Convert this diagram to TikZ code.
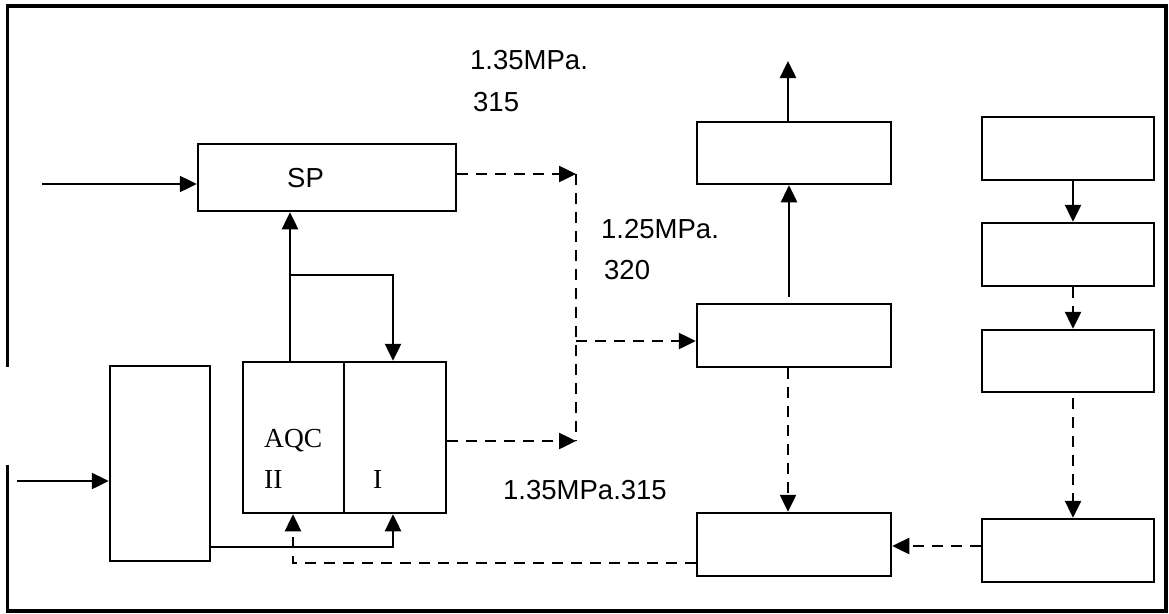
\documentclass[tikz,border=0pt]{standalone}
\usepackage{fontspec}
\setmainfont{Liberation Sans}
\newfontfamily\romanfont{Liberation Serif}
\usetikzlibrary{arrows.meta}
\begin{document}
\begin{tikzpicture}[x=1pt,y=-1pt,
  box/.style={draw, line width=2.5pt, inner sep=0pt, line join=miter},
  conn/.style={line width=2.5pt, -{Triangle[length=17pt,width=16pt]}},
  plain/.style={line width=2.5pt},
  dsh/.style={dash pattern=on 11pt off 8pt},
  lbl/.style={inner sep=0pt, anchor=base west, font=\fontsize{27.5}{32}\selectfont},
  rlbl/.style={inner sep=0pt, anchor=base west, font=\romanfont\fontsize{27.5}{32}\selectfont}]
\useasboundingbox (0,0) rectangle (1169,613);
% outer frame with gap on the left
\draw[line width=3.6pt, line join=miter] (7.6,367) -- (7.6,5.8) -- (1166,5.8) -- (1166,611.2) -- (7.6,611.2) -- (7.6,465);

% boxes
\node[box, minimum width=258pt, minimum height=67pt] (sp) at (327,177.5) {};
\node[box, minimum width=100pt, minimum height=195pt] (lbox) at (160,463.5) {};
\node[box, minimum width=101pt, minimum height=151pt] (aqc2) at (293.5,437.5) {};
\node[box, minimum width=102pt, minimum height=151pt] (aqc1) at (395,437.5) {};
\node[box, minimum width=194pt, minimum height=62pt] (A) at (794,153) {};
\node[box, minimum width=194pt, minimum height=63pt] (B) at (794,335.5) {};
\node[box, minimum width=194pt, minimum height=63pt] (C) at (794,544.5) {};
\node[box, minimum width=172pt, minimum height=63pt] (R1) at (1068,148.5) {};
\node[box, minimum width=172pt, minimum height=63pt] (R2) at (1068,254.5) {};
\node[box, minimum width=172pt, minimum height=62pt] (R3) at (1068,361) {};
\node[box, minimum width=172pt, minimum height=63pt] (R4) at (1068,550.5) {};

% texts
\node[lbl] (tsp) at (287,187.5) {SP};
\node[lbl] (t1) at (470,69) {1.35MPa.};
\node[lbl] (t2) at (473,111.5) {315};
\node[lbl] (t3) at (601,238) {1.25MPa.};
\node[lbl] (t4) at (604,279) {320};
\node[lbl] (t5) at (503,499) {1.35MPa.315};
\node[rlbl] (taqc) at (264,447) {AQC};
\node[rlbl] (tii) at (264,488) {II};
\node[rlbl] (ti) at (373,488) {I};

% junction coordinates
\coordinate (in1) at (42,184);
\coordinate (in2) at (17,481);
\coordinate (j1) at (576,174);
\coordinate (j2) at (576,441);
\coordinate (j3) at (576,341);
\coordinate (u1) at (290,275);
\coordinate (u2) at (393,275);
\coordinate (b1) at (393,547);
\coordinate (b2) at (293,563);
\coordinate (aout) at (788,61);

% left part
\draw[conn] (in1) -- (in1 -| sp.west);
\draw[conn] (in2) -- (in2 -| lbox.west);
\draw[conn] (u1 |- aqc2.north) -- (u1 |- sp.south);
\draw[conn] (u1) -- (u2) -- (u2 |- aqc1.north);
\draw[conn] (lbox.east |- b1) -- (b1) -- (b1 |- aqc1.south);
\draw[conn, dsh] (C.west |- b2) -- (b2) -- (b2 |- aqc2.south);

% dashed collector
\draw[conn, dsh] (sp.east |- j1) -- (j1);
\draw[plain, dsh] (j1) -- (j2);
\draw[conn, dsh] (aqc1.east |- j2) -- (j2);
\draw[conn, dsh] (j3) -- (j3 -| B.west);

% middle column
\draw[conn] (aout |- A.north) -- (aout);
\draw[conn] ([xshift=-5pt,yshift=6pt]B.north) -- ([xshift=-5pt]A.south);
\draw[conn, dsh] ([xshift=-6pt]B.south) -- ([xshift=-6pt]C.north);

% right column
\draw[conn] ([xshift=5pt]R1.south) -- ([xshift=5pt]R2.north);
\draw[conn, dsh] ([xshift=5pt]R2.south) -- ([xshift=5pt]R3.north);
\draw[conn, dsh] ([xshift=5pt,yshift=-5pt]R3.south) -- ([xshift=5pt]R4.north);
\draw[conn, dsh] ([yshift=4.5pt]R4.west) -- ([yshift=-1.5pt]C.east);
\end{tikzpicture}
\end{document}
